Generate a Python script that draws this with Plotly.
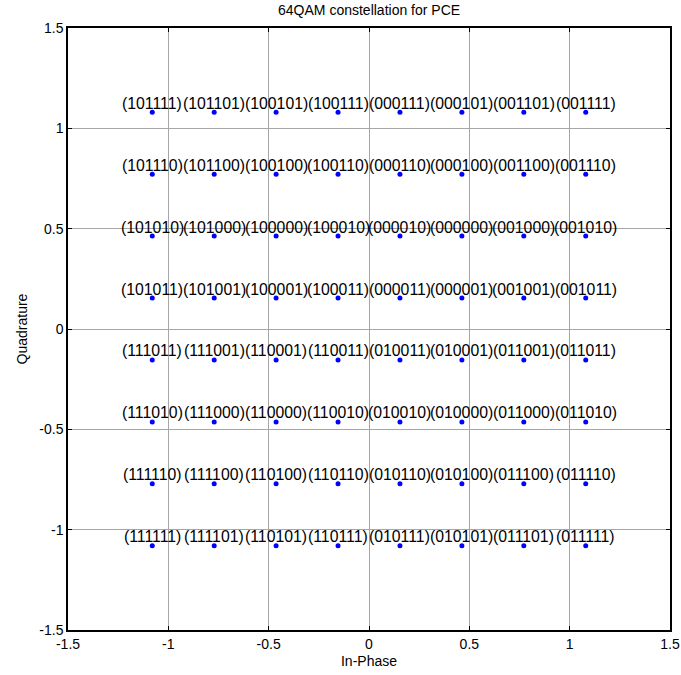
import plotly.graph_objects as go

# Normalised 64QAM amplitude levels (in-phase and quadrature)
i_levels = [-1.0801, -0.7715, -0.4629, -0.1543, 0.1543, 0.4629, 0.7715, 1.0801]
q_levels = [1.0801, 0.7715, 0.4629, 0.1543, -0.1543, -0.4629, -0.7715, -1.0801]

# Bit labels per row (top row first), columns left to right
bit_rows = [
    ["101111", "101101", "100101", "100111", "000111", "000101", "001101", "001111"],
    ["101110", "101100", "100100", "100110", "000110", "000100", "001100", "001110"],
    ["101010", "101000", "100000", "100010", "000010", "000000", "001000", "001010"],
    ["101011", "101001", "100001", "100011", "000011", "000001", "001001", "001011"],
    ["111011", "111001", "110001", "110011", "010011", "010001", "011001", "011011"],
    ["111010", "111000", "110000", "110010", "010010", "010000", "011000", "011010"],
    ["111110", "111100", "110100", "110110", "010110", "010100", "011100", "011110"],
    ["111111", "111101", "110101", "110111", "010111", "010101", "011101", "011111"],
]

xs, ys, labels = [], [], []
for q, row in zip(q_levels, bit_rows):
    for i, bits in zip(i_levels, row):
        xs.append(i)
        ys.append(q)
        labels.append("(" + bits + ")")

font_family = "Liberation Sans, Arial, sans-serif"

fig = go.Figure()
fig.add_trace(go.Scatter(
    x=xs, y=ys, mode="markers",
    marker=dict(color="#0000ff", size=5),
    hoverinfo="skip", showlegend=False,
))

for x, y, t in zip(xs, ys, labels):
    fig.add_annotation(
        x=x, y=y, text=t, showarrow=False,
        xanchor="center", yanchor="middle", yshift=9,
        font=dict(family=font_family, size=15.8, color="black"),
    )

axis_common = dict(
    range=[-1.5, 1.5],
    tickvals=[-1.5, -1, -0.5, 0, 0.5, 1, 1.5],
    ticktext=["-1.5", "-1", "-0.5", "0", "0.5", "1", "1.5"],
    showgrid=True, gridcolor="#a6a6a6", gridwidth=1,
    zeroline=False, automargin=False,
    showline=True, linecolor="black", linewidth=1.5, mirror="allticks",
    ticks="inside", ticklen=4, tickcolor="black", tickwidth=1,
    tickfont=dict(family=font_family, size=14, color="black"),
)

fig.update_xaxes(**axis_common, title=dict(text="In-Phase", standoff=6,
                 font=dict(family=font_family, size=14, color="black")))
fig.update_yaxes(**axis_common, title=dict(text="Quadrature", standoff=8,
                 font=dict(family=font_family, size=14, color="black")))

fig.update_layout(
    width=681, height=675,
    margin=dict(l=68, r=11, t=28, b=45),
    paper_bgcolor="white", plot_bgcolor="white",
    title=dict(text="64QAM constellation for PCE", x=0.542, xanchor="center",
               y=0.993, yanchor="top",
               font=dict(family=font_family, size=14, color="black")),
)

fig.write_html("out.html")
